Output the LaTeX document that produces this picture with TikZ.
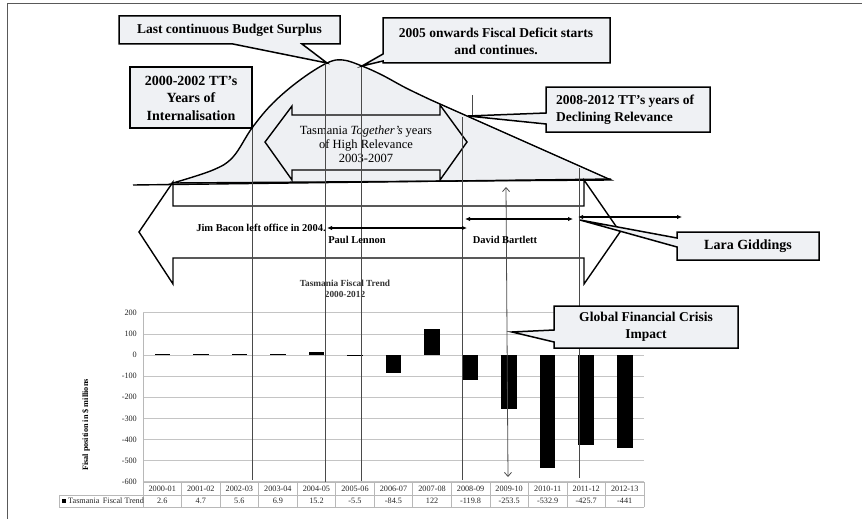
\documentclass[tikz,border=0pt]{standalone}
\usepackage{fontspec}
\setmainfont{Liberation Serif}
\usetikzlibrary{arrows.meta,calc}
\definecolor{humpfill}{HTML}{EEF0F3}
\definecolor{boxfill}{HTML}{EFF1F4}
\definecolor{vline}{HTML}{4A4A4A}
\definecolor{gridc}{HTML}{C4C4C4}
\definecolor{tabc}{HTML}{B8B8B8}
\begin{document}
\begin{tikzpicture}[x=1pt,y=-1pt,
  thickline/.style={line width=1.4pt, line join=miter},
  callout/.style={line width=1.5pt, fill=boxfill, draw=black, line join=miter},
  calltext/.style={font=\fontsize{13.5}{17}\selectfont\bfseries, align=center, inner sep=0pt},
  vthin/.style={draw=vline, line width=0.8pt},
  period/.style={line width=1.5pt, {Latex[length=5pt,width=4.5pt]}-{Latex[length=5pt,width=4.5pt]}},
  small/.style={font=\fontsize{10.5}{12}\selectfont\bfseries, inner sep=0pt},
  tick/.style={font=\fontsize{8.2}{9}\selectfont, inner sep=0pt, text=black!85},
  gridline/.style={draw=gridc, line width=0.7pt},
  tabline/.style={draw=tabc, line width=0.6pt}]
\useasboundingbox (0,0) rectangle (862,519);
\fill[white] (0,0) rectangle (862,519);
% frame
\draw[draw=black!65, line width=1pt] (7,519) -- (7,4) -- (862,4);

% hump
\filldraw[fill=humpfill, thickline] plot[smooth, tension=0.6] coordinates {(173,183) (213,170) (233,157) (252,128) (273,103) (300,80) (327,63) (343,60) (362,66) (382,75) (406,88) (431,100)} -- (611,180) -- cycle;
\draw[thickline] (133,185) -- (611,179);

% high relevance arrow
\draw[thickline] (265,142) -- (292,106) -- (292,115) -- (440,115) -- (440,105) -- (467,142) -- (440,180) -- (440,170) -- (292,170) -- (292,180) -- cycle;
\node[font=\fontsize{12.5}{14}\selectfont, align=center, inner sep=0pt] (hr) at (366,144) {Tasmania \textit{Together’s} years\\of High Relevance\\2003-2007};

% big double arrow
\draw[thickline] (139,232) -- (173,182) -- (173,206) -- (584,206) -- (584,180) -- (620,232) -- (584,284) -- (584,258) -- (173,258) -- (173,284) -- cycle;

% chart grid
\foreach \v in {200,100,0,-100,-200,-300,-400,-500,-600} {
  \draw[gridline] (143,{355-0.21125*\v}) -- (644,{355-0.21125*\v});
  \node[tick, anchor=east] (yl\v) at (137,{355-0.21125*\v}) {\v};
}
\draw[tabline] (143,313) -- (143,507);
% bars
\foreach \v [count=\i from 0] in {2.6,4.7,5.6,6.9,15.2,-5.5,-84.5,122,-119.8,-253.5,-532.9,-425.7,-441} {
  \fill[black] ({143+38.54*(\i+0.5)-7.75},355) rectangle ++(15.5,{-0.21125*\v});
}
% table
\draw[tabline] (143,482) -- (644,482);
\draw[tabline] (59,495) -- (644,495);
\draw[tabline] (59,507) -- (644,507);
\draw[tabline] (59,495) -- (59,507);
\foreach \i in {0,...,13} { \draw[tabline] ({143+38.54*\i},482) -- ({143+38.54*\i},507); }
\foreach \lab [count=\i from 0] in {2000-01,2001-02,2002-03,2003-04,2004-05,2005-06,2006-07,2007-08,2008-09,2009-10,2010-11,2011-12,2012-13} {
  \node[tick] (cl\i) at ({143+38.54*(\i+0.5)},488.5) {\lab};
}
\foreach \val [count=\i from 0] in {2.6,4.7,5.6,6.9,15.2,-5.5,-84.5,122,-119.8,-253.5,-532.9,-425.7,-441} {
  \node[tick] (cv\i) at ({143+38.54*(\i+0.5)},501) {\val};
}
\fill[black] (62,499) rectangle (66,503);
\node[tick, anchor=west] (legend) at (68,501) {Tasmania\, Fiscal Trend};
\node[font=\fontsize{8.2}{9}\selectfont\bfseries, rotate=90, inner sep=0pt] (ytitle) at (86,425) {Fisal position in \$ millions};
\node[font=\fontsize{9.3}{11.5}\selectfont\bfseries, align=center, inner sep=0pt, text=black!80] (ctitle) at (345,289) {Tasmania Fiscal Trend\\2000-2012};

% vertical lines
\draw[vthin] (252,128) -- (252,480);
\draw[vthin] (325,63) -- (325,482);
\draw[vthin] (361,66) -- (361,481);
\draw[vthin] (462,117) -- (462,480);
\draw[vthin] (472,95) -- (472,116);
\draw[vthin] (579,168) -- (579,478);
\coordinate (gfcT) at (506,187);
\coordinate (gfcB) at (508,477);
\draw[vthin, {Straight Barb[length=4pt,width=7pt]}-{Straight Barb[length=4pt,width=7pt]}] (gfcT) -- (gfcB);

% leaders
\node[small, anchor=east] (bacon) at (326,228) {Jim Bacon left office in 2004.};
\coordinate (pl1) at (327,228); \coordinate (pl2) at (467,228);
\draw[period] (pl1) -- (pl2);
\node[small] (lennon) at (357,240) {Paul Lennon};
\coordinate (db1) at (465,219); \coordinate (db2) at (573,219);
\draw[period] (db1) -- (db2);
\node[small] (bartlett) at (505,240) {David Bartlett};
\coordinate (lg1) at (578,217); \coordinate (lg2) at (682,217);
\draw[period] (lg1) -- (lg2);

% callouts
\draw[callout] (119,16) -- (340,16) -- (340,44) -- (302,44) -- (327,63) -- (233,44) -- (119,44) -- cycle;
\node[calltext] (surplus) at (229.5,30) {Last continuous Budget Surplus};

\draw[callout] (383,18) -- (610,18) -- (610,63) -- (383,63) -- (383,61) -- (362,66) -- (383,54) -- cycle;
\node[calltext] (deficit) at (496,41.5) {2005 onwards Fiscal Deficit starts\\and continues.};

\draw[callout] (130,67) rectangle (252,128);
\node[calltext, font=\fontsize{14}{17.5}\selectfont\bfseries] (intern) at (191,98) {2000-2002 TT’s\\Years of\\Internalisation};

\draw[callout] (546,87) -- (710,87) -- (710,132) -- (546,132) -- (546,124) -- (468,116) -- (546,113) -- cycle;
\node[calltext, align=left, anchor=west] (decline) at (556,109.5) {2008-2012 TT’s years of\\Declining Relevance};

\draw[callout] (677,232) -- (819,232) -- (819,260) -- (677,260) -- (677,247) -- (580,220) -- (677,238) -- cycle;
\node[calltext, font=\fontsize{14}{17}\selectfont\bfseries] (lara) at (748,246) {Lara Giddings};

\draw[callout] (554,306) -- (738,306) -- (738,348) -- (554,348) -- (554,342) -- (512,332) -- (554,330) -- cycle;
\node[calltext] (gfc) at (646,327) {Global Financial Crisis\\Impact};
\end{tikzpicture}
\end{document}
